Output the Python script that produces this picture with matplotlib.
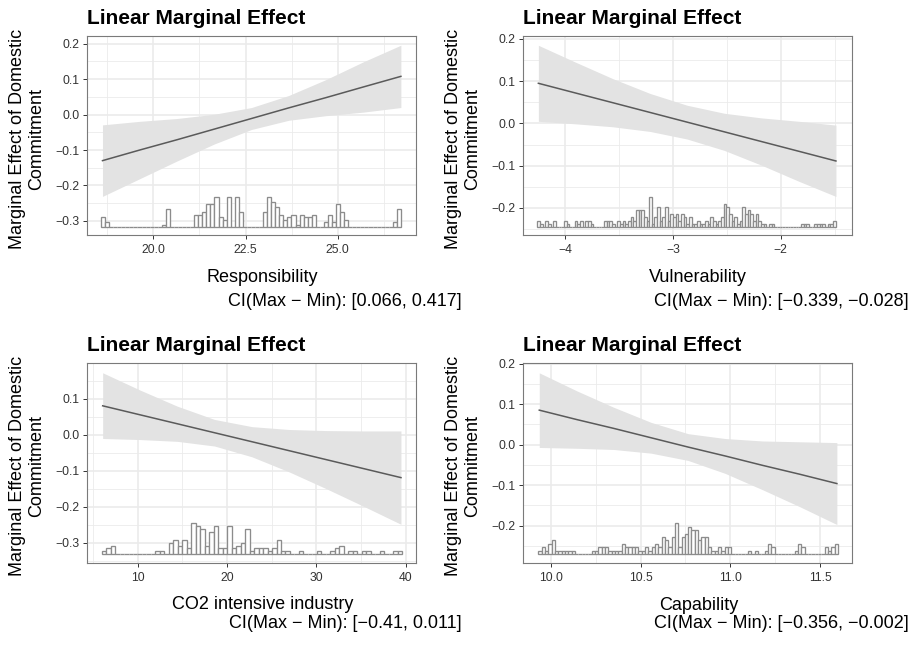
import numpy as np
import matplotlib
matplotlib.use("Agg")
import matplotlib.pyplot as plt

plt.rcParams["font.family"] = ["Liberation Sans", "DejaVu Sans"]

TITLE  = "Linear Marginal Effect"
YLABEL = "Marginal Effect of Domestic\nCommitment"

# --- Responsibility ---
resp_x   = [18.62, 19.63, 20.64, 21.65, 22.66, 23.67, 24.68, 25.69, 26.71]
resp_est = [-0.130, -0.100, -0.071, -0.041, -0.011, 0.019, 0.048, 0.078, 0.108]
resp_lo  = [-0.231, -0.181, -0.131, -0.083, -0.042, -0.016, -0.003, 0.007, 0.020]
resp_hi  = [-0.029, -0.019, -0.011, 0.001, 0.020, 0.054, 0.099, 0.149, 0.196]
resp_hist_range = (18.58, 26.71)
resp_counts = [4, 2, 0, 0, 0, 0, 0, 0, 0, 0, 0, 0, 0, 0, 0, 1, 7, 0, 0, 0, 0, 0, 0,
               5, 5, 6, 9, 9, 12, 4, 3, 12, 0, 12, 6, 0, 0, 0, 0, 0,
               6, 12, 10, 8, 5, 3, 4, 5, 1, 5, 4, 4, 5, 0, 0, 2, 5, 2, 9, 6, 3,
               0, 0, 0, 0, 0, 0, 0, 0, 0, 0, 0, 2, 7]
resp_xticks = [20.0, 22.5, 25.0]
resp_yticks = [-0.3, -0.2, -0.1, 0.0, 0.1, 0.2]
resp_ci = "CI(Max \u2212 Min): [0.066, 0.417]"

# --- Vulnerability ---
vuln_x   = [-4.25, -3.905, -3.559, -3.214, -2.869, -2.523, -2.178, -1.832, -1.487]
vuln_est = [0.095, 0.072, 0.049, 0.026, 0.003, -0.020, -0.043, -0.066, -0.089]
vuln_lo  = [0.005, -0.001, -0.008, -0.019, -0.037, -0.064, -0.099, -0.137, -0.173]
vuln_hi  = [0.185, 0.145, 0.106, 0.071, 0.043, 0.024, 0.013, 0.005, -0.004]
vuln_hist_range = (-4.26, -1.49)
vuln_counts = [2, 1, 0, 2, 1, 0, 2, 0, 0, 0, 2, 1,
               0, 0, 2, 1, 2, 0, 2, 2, 1, 0, 0, 0,
               0, 2, 2, 2, 1, 0, 2, 1, 2, 1, 2, 3,
               2, 5, 5, 5, 3, 2, 9, 1, 3, 6, 2, 3,
               6, 2, 4, 3, 4, 2, 4, 3, 1, 3, 1, 1,
               2, 1, 1, 2, 1, 3, 2, 1, 2, 3, 7, 6,
               4, 2, 3, 1, 2, 6, 4, 5, 4, 2, 4, 2,
               1, 1, 0, 1, 1, 0, 0, 0, 0, 0, 0, 0,
               0, 0, 0, 1, 1, 1, 0, 0, 1, 1, 1, 1,
               0, 1, 1, 2]
vuln_xticks = [-4, -3, -2]
vuln_yticks = [-0.2, -0.1, 0.0, 0.1, 0.2]
vuln_ci = "CI(Max \u2212 Min): [\u22120.339, \u22120.028]"

# --- CO2 intensive industry ---
co2_x   = [6.08, 10.25, 14.43, 18.60, 22.78, 26.95, 31.12, 35.30, 39.47]
co2_est = [0.081, 0.056, 0.031, 0.006, -0.019, -0.044, -0.069, -0.094, -0.119]
co2_lo  = [-0.010, -0.013, -0.018, -0.031, -0.061, -0.103, -0.150, -0.199, -0.249]
co2_hi  = [0.173, 0.125, 0.080, 0.043, 0.023, 0.015, 0.012, 0.011, 0.011]
co2_hist_range = (5.96, 39.6)
co2_counts = [1, 2, 3, 0, 0, 0, 0, 0, 0, 0, 0, 0, 1, 1, 0,
              4, 5, 3, 5, 2, 11, 10, 9, 3, 8, 10, 2, 2, 10, 2, 3, 4, 9, 1, 2, 2, 2, 1, 2, 5, 1, 1,
              0, 0, 1, 0, 0, 0, 1, 0, 0, 1, 2, 3, 0, 1, 1, 0, 1, 1, 0, 0, 1, 0, 0, 1, 1]
co2_xticks = [10, 20, 30, 40]
co2_yticks = [-0.3, -0.2, -0.1, 0.0, 0.1]
co2_ci = "CI(Max \u2212 Min): [\u22120.41, 0.011]"

# --- Capability ---
cap_x   = [9.936, 10.143, 10.351, 10.558, 10.765, 10.972, 11.179, 11.387, 11.594]
cap_est = [0.085, 0.062, 0.040, 0.017, -0.006, -0.028, -0.051, -0.073, -0.096]
cap_lo  = [-0.007, -0.009, -0.012, -0.021, -0.039, -0.071, -0.111, -0.153, -0.197]
cap_hi  = [0.177, 0.133, 0.092, 0.055, 0.027, 0.015, 0.009, 0.007, 0.005]
cap_hist_range = (9.931, 11.60)
cap_counts = [1, 2, 1, 3, 4, 1, 1, 1, 1, 1, 1, 0, 0, 0, 0, 0,
              1, 1, 2, 2, 2, 1, 1, 1, 1, 3, 2, 2, 2, 2, 1, 1, 2, 1, 2, 3,
              2, 5, 4, 2, 5, 9, 2, 5, 6, 8, 7, 7, 4, 5, 5, 2, 1, 1, 2, 1, 2, 2,
              0, 0, 0, 0, 0, 1, 0, 1, 0, 0, 1, 3, 2, 0, 0, 0, 0, 0, 0,
              1, 3, 2, 0, 0, 0, 0, 0, 0, 2, 1, 2, 3]
cap_xticks = [10.0, 10.5, 11.0, 11.5]
cap_yticks = [-0.2, -0.1, 0.0, 0.1, 0.2]
cap_ci = "CI(Max \u2212 Min): [\u22120.356, \u22120.002]"

W, H = 919, 645
fig = plt.figure(figsize=(W / 100, H / 100), dpi=100)

# layout: panel box in pixels (left, top, right, bottom), limits, hist base/top, tick format
panels = [
    dict(box=(87, 36, 416, 235), xlim=(18.20, 27.12), ylim=(-0.340, 0.222),
         x=resp_x, est=resp_est, lo=resp_lo, hi=resp_hi, hr=resp_hist_range, counts=resp_counts,
         hb=(-0.318, -0.232), xt=resp_xticks, yt=resp_yticks, xf="{:.1f}",
         xlabel="Responsibility", ci=resp_ci, ci_y=301),
    dict(box=(523.3, 36, 852.3, 235.3), xlim=(-4.39, -1.335), ylim=(-0.265, 0.207),
         x=vuln_x, est=vuln_est, lo=vuln_lo, hi=vuln_hi, hr=vuln_hist_range, counts=vuln_counts,
         hb=(-0.2465, -0.174), xt=vuln_xticks, yt=vuln_yticks, xf="{:.0f}",
         xlabel="Vulnerability", ci=vuln_ci, ci_y=301),
    dict(box=(87.3, 363.3, 415.7, 562.7), xlim=(4.36, 41.12), ylim=(-0.356, 0.1994),
         x=co2_x, est=co2_est, lo=co2_lo, hi=co2_hi, hr=co2_hist_range, counts=co2_counts,
         hb=(-0.3315, -0.246), xt=co2_xticks, yt=co2_yticks, xf="{:.0f}",
         xlabel="CO2 intensive industry", ci=co2_ci, ci_y=623),
    dict(box=(523.3, 363.3, 852.3, 563.3), xlim=(9.847, 11.68), ylim=(-0.2926, 0.2005),
         x=cap_x, est=cap_est, lo=cap_lo, hi=cap_hi, hr=cap_hist_range, counts=cap_counts,
         hb=(-0.270, -0.194), xt=cap_xticks, yt=cap_yticks, xf="{:.1f}",
         xlabel="Capability", ci=cap_ci, ci_y=623),
]


def minors(ticks, lim):
    t = np.asarray(ticks, dtype=float)
    step = t[1] - t[0]
    m = np.concatenate([[t[0] - step / 2], (t[:-1] + t[1:]) / 2, [t[-1] + step / 2]])
    return [v for v in m if lim[0] <= v <= lim[1]]


def fmt(s):
    return s.replace("-", "\u2212")


for p in panels:
    l, t, r, b = p["box"]
    ax = fig.add_axes([l / W, 1 - b / H, (r - l) / W, (b - t) / H])
    ax.set_xlim(*p["xlim"]); ax.set_ylim(*p["ylim"])

    for v in minors(p["xt"], p["xlim"]):
        ax.axvline(v, color="#EBEBEB", lw=0.6, zorder=0)
    for v in minors(p["yt"], p["ylim"]):
        ax.axhline(v, color="#EBEBEB", lw=0.6, zorder=0)
    for v in p["xt"]:
        ax.axvline(v, color="#EBEBEB", lw=1.2, zorder=0)
    for v in p["yt"]:
        ax.axhline(v, color="#EBEBEB", lw=1.2, zorder=0)

    ax.fill_between(p["x"], p["lo"], p["hi"], color="#E3E3E3", lw=0, zorder=1)
    ax.plot(p["x"], p["est"], color="#5a5a5a", lw=1.1, zorder=3)

    counts = np.asarray(p["counts"], dtype=float)
    edges = np.linspace(p["hr"][0], p["hr"][1], len(counts) + 1)
    base, top = p["hb"]
    heights = counts / counts.max() * (top - base)
    ax.bar(edges[:-1], heights, width=np.diff(edges), bottom=base, align="edge",
           facecolor="white", edgecolor="#8c8c8c", linewidth=0.95, zorder=2)

    ax.set_xticks(p["xt"])
    ax.set_xticklabels([fmt(p["xf"].format(v)) for v in p["xt"]])
    ax.set_yticks(p["yt"])
    ax.set_yticklabels([fmt("{:.1f}".format(v)) for v in p["yt"]])
    ax.tick_params(axis="both", labelsize=8.7, colors="#333333", length=3, width=0.7)
    ax.tick_params(axis="x", pad=3.5)
    ax.tick_params(axis="y", pad=2.5)
    for s in ax.spines.values():
        s.set_color("#7a7a7a"); s.set_linewidth(0.8)

    ax.set_title(TITLE, loc="left", fontsize=15, fontweight="bold", pad=8.5)

    fig.text((l - 60) / W, 1 - ((t + b) / 2 + 3) / H, YLABEL, rotation=90,
             ha="center", va="center", multialignment="center", fontsize=13, linespacing=1.15)
    fig.text((l + 175) / W, 1 - (b + 42) / H, p["xlabel"], ha="center", va="center", fontsize=13)
    fig.text((l + 258) / W, 1 - p["ci_y"] / H, p["ci"], ha="center", va="center", fontsize=13)

fig.savefig("out.png", dpi=100)
